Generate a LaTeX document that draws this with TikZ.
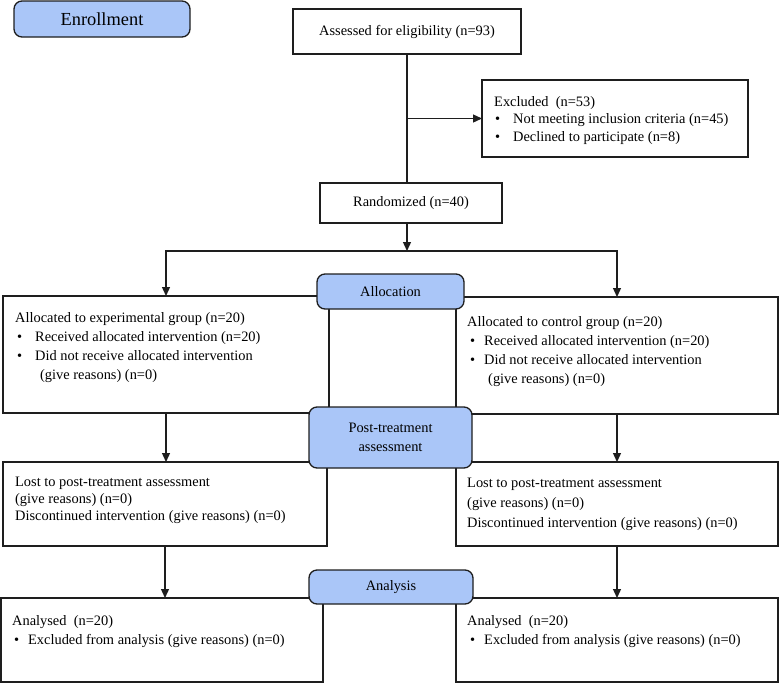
\documentclass[tikz,border=0pt]{standalone}
\usepackage{fontspec}
\setmainfont{Liberation Serif}
\usetikzlibrary{arrows.meta}

\definecolor{stageblue}{RGB}{170,198,248}
\definecolor{edgegray}{RGB}{30,30,30}

% bullet: shift from text start, then room up to the item text
\newcommand{\bul}[2]{\hspace*{#1}\makebox[#2][l]{\textbullet}}

\tikzset{
  box/.style={draw=edgegray, line width=1.3pt, anchor=north west,
    inner sep=0pt, outer sep=0pt, font=\fontsize{14.4}{18}\selectfont},
  stage/.style={draw=edgegray, fill=stageblue, line width=1.3pt,
    rounded corners=8pt, inner sep=0pt, outer sep=0pt, align=center,
    font=\fontsize{14.4}{19}\selectfont},
  txt/.style={anchor=north west, inner sep=0pt, align=left},
  link/.style={draw=edgegray, line width=1.3pt},
  arr/.style={link, -{Triangle[length=9pt,width=8pt]}}
}

\begin{document}
\begin{tikzpicture}[x=1pt, y=-1pt]
  \useasboundingbox (0,0) rectangle (779,683);

  % Enrollment
  \node[stage, minimum width=176pt, minimum height=36pt,
    font=\fontsize{18.4}{20}\selectfont] (enroll) at (102,19) {Enrollment};

  \node[box, minimum width=228pt, minimum height=45pt] (assess) at (293,9)
    {Assessed for eligibility (n=93)};
  \node[box, minimum width=266pt, minimum height=77pt] (excl) at (482,80) {};
  \node[txt, font=\fontsize{14.4}{17.5}\selectfont] (exclTxt) at (494,96)
    {Excluded\ \ (n=53)\\
     \bul{1pt}{18pt}Not meeting inclusion criteria (n=45)\\
     \bul{1pt}{18pt}Declined to participate (n=8)};
  \node[box, minimum width=182pt, minimum height=40pt] (rand) at (320,183)
    {Randomized (n=40)};

  \draw[link] (assess.south) -- (assess.south |- rand.north);
  \draw[arr] (assess.south |- excl.west) -- (excl.west);

  % Allocation
  \node[box, minimum width=326pt, minimum height=117pt] (allocL) at (3,296) {};
  \node[txt, font=\fontsize{14.4}{19}\selectfont] (allocLTxt) at (15,312)
    {Allocated to experimental group (n=20)\\
     \bul{2pt}{18pt}Received allocated intervention (n=20)\\
     \bul{2pt}{18pt}Did not receive allocated intervention\\
     \hspace*{25pt}(give reasons) (n=0)};
  \node[box, minimum width=322pt, minimum height=117pt] (allocR) at (456,297) {};
  \node[txt, font=\fontsize{14.4}{19}\selectfont] (allocRTxt) at (467,316)
    {Allocated to control group (n=20)\\
     \bul{3pt}{14pt}Received allocated intervention (n=20)\\
     \bul{3pt}{14pt}Did not receive allocated intervention\\
     \hspace*{21pt}(give reasons) (n=0)};

  \coordinate (split) at (407,251);
  \draw[arr] (assess.south |- rand.south) -- (split);
  \draw[arr] (split) -| (allocL.north);
  \draw[arr] (split) -| (allocR.north);

  % Post-treatment assessment
  \node[box, minimum width=324pt, minimum height=84pt] (lostL) at (3,462) {};
  \node[txt, font=\fontsize{14.4}{17}\selectfont] (lostLTxt) at (15,477)
    {Lost to post-treatment assessment\\
     (give reasons) (n=0)\\
     Discontinued intervention (give reasons) (n=0)};
  \node[box, minimum width=322pt, minimum height=84pt] (lostR) at (456,462) {};
  \node[txt, font=\fontsize{14.4}{20}\selectfont] (lostRTxt) at (467,478)
    {Lost to post-treatment assessment\\
     (give reasons) (n=0)\\
     Discontinued intervention (give reasons) (n=0)};

  \draw[arr] (allocL.south) -- (allocL.south |- lostL.north);
  \draw[arr] (allocR.south) -- (lostR.north);

  % Analysis
  \node[box, minimum width=322pt, minimum height=84pt] (anaL) at (1,598) {};
  \node[txt, font=\fontsize{14.4}{19}\selectfont] (anaLTxt) at (12,615)
    {Analysed\ \ (n=20)\\
     \bul{2pt}{14pt}Excluded from analysis (give reasons) (n=0)};
  \node[box, minimum width=322pt, minimum height=84pt] (anaR) at (456,598) {};
  \node[txt, font=\fontsize{14.4}{19}\selectfont] (anaRTxt) at (467,615)
    {Analysed\ \ (n=20)\\
     \bul{3pt}{14pt}Excluded from analysis (give reasons) (n=0)};

  \draw[arr] (lostL.south) -- (lostL.south |- anaL.north);
  \draw[arr] (lostR.south) -- (anaR.north);

  % stage labels on top
  \node[stage, minimum width=147pt, minimum height=35pt] (allocStage)
    at (390.5,291.5) {Allocation};
  \node[stage, minimum width=163pt, minimum height=61pt] (postStage)
    at (390.5,437.5) {Post-treatment\\assessment};
  \node[stage, minimum width=164pt, minimum height=34pt] (anaStage)
    at (391,587) {Analysis};
\end{tikzpicture}
\end{document}
